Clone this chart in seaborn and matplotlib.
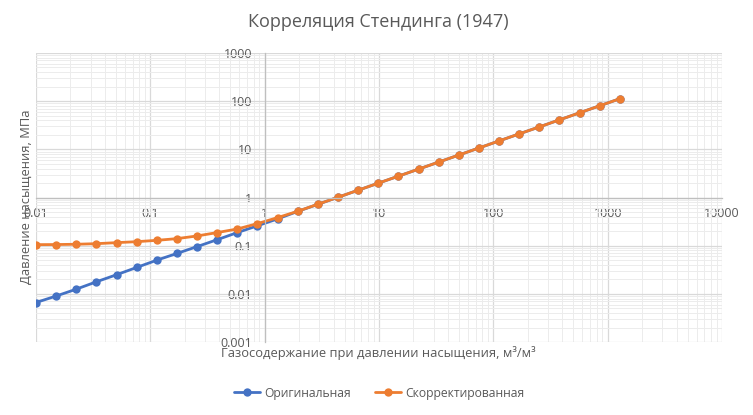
import numpy as np
import pandas as pd
import seaborn as sns
import matplotlib
matplotlib.use("Agg")
import matplotlib.pyplot as plt
from matplotlib.ticker import LogLocator, FuncFormatter, NullFormatter
from matplotlib.lines import Line2D

# газосодержание, м3/м3
rs = [0.01, 0.015, 0.0225, 0.0338, 0.0506, 0.0759, 0.114, 0.171, 0.256, 0.384,
      0.577, 0.865, 1.30, 1.95, 2.92, 4.38, 6.57, 9.85, 14.8, 22.2,
      33.3, 49.9, 74.8, 112, 168, 253, 379, 568, 852, 1279]

# давление насыщения, МПа
pb_orig = [0.0066, 0.0090, 0.0125, 0.0178, 0.0249, 0.0353, 0.050, 0.069, 0.0955, 0.133,
           0.187, 0.259, 0.360, 0.516, 0.722, 1.011, 1.416, 1.982, 2.775, 3.885,
           5.44, 7.61, 10.66, 14.92, 20.89, 29.25, 40.95, 57.33, 80.26, 112.4]
pb_corr = [0.105, 0.1055, 0.107, 0.110, 0.1155, 0.121, 0.129, 0.140, 0.159, 0.187,
           0.222, 0.287, 0.383, 0.519, 0.725, 1.013, 1.418, 1.984, 2.777, 3.887,
           5.44, 7.61, 10.66, 14.92, 20.89, 29.25, 40.95, 57.33, 80.26, 112.4]

names = ["Оригинальная", "Скорректированная"]
colors = ["#4472C4", "#ED7D31"]

df = pd.DataFrame({
    "x": rs + rs,
    "y": pb_orig + pb_corr,
    "series": [names[0]] * len(rs) + [names[1]] * len(rs),
})

sns.set_theme(style="white")
plt.rcParams["font.family"] = ["Open Sans", "DejaVu Sans"]

fig = plt.figure(figsize=(7.53, 4.15), dpi=100)
ax = fig.add_axes([36 / 753, 1 - 342 / 415, (722 - 36) / 753, (342 - 53) / 415])

sns.lineplot(data=df, x="x", y="y", hue="series", palette=colors, marker="o",
             markersize=6, markeredgewidth=0, linewidth=2, sort=False,
             legend=False, ax=ax)

ax.set_xscale("log")
ax.set_yscale("log")
ax.set_xlim(0.01, 10000)
ax.set_ylim(0.001, 1000)

ax.xaxis.set_major_locator(LogLocator(base=10, numticks=20))
ax.yaxis.set_major_locator(LogLocator(base=10, numticks=20))
ax.xaxis.set_minor_locator(LogLocator(base=10, subs=np.arange(2, 10), numticks=100))
ax.yaxis.set_minor_locator(LogLocator(base=10, subs=np.arange(2, 10), numticks=100))
fmt = FuncFormatter(lambda v, p: "{:g}".format(v))
ax.xaxis.set_major_formatter(fmt)
ax.yaxis.set_major_formatter(fmt)
ax.xaxis.set_minor_formatter(NullFormatter())
ax.yaxis.set_minor_formatter(NullFormatter())

ax.grid(which="major", color="#d9d9d9", linewidth=0.9)
ax.grid(which="minor", color="#ececec", linewidth=0.7)
ax.set_axisbelow(True)

for s in ["top", "right"]:
    ax.spines[s].set_visible(False)
ax.spines["left"].set_position(("data", 1))
ax.spines["bottom"].set_position(("data", 1))
for s in ["left", "bottom"]:
    ax.spines[s].set_color("#bfbfbf")
    ax.spines[s].set_linewidth(0.9)

ax.tick_params(axis="x", which="both", length=0, pad=7, labelsize=9, labelcolor="#595959")
ax.tick_params(axis="y", which="both", length=0, pad=9, labelsize=9, labelcolor="#595959")
ax.set_xlabel("")
ax.set_ylabel("")

fig.text(0.502, 1 - 22 / 415, "Корреляция Стендинга (1947)", ha="center", va="center",
         fontsize=13, color="#595959")
fig.text(26 / 753, 1 - 197 / 415, "Давление насыщения, МПа", rotation=90,
         ha="center", va="center", fontsize=9.3, color="#595959")
fig.text(378 / 753, 1 - 353 / 415, "Газосодержание при давлении насыщения, м³/м³",
         ha="center", va="center", fontsize=9.3, color="#595959")

handles = [Line2D([], [], color=c, marker="o", markersize=6, markeredgewidth=0, linewidth=2)
           for c in colors]
leg = fig.legend(handles, names, loc="center", bbox_to_anchor=(0.503, 1 - 393 / 415),
                 ncol=2, frameon=False, fontsize=8.7, handlelength=2.2, columnspacing=2.0,
                 handletextpad=0.3)
for t in leg.get_texts():
    t.set_color("#595959")

fig.savefig("out.png", dpi=100)
